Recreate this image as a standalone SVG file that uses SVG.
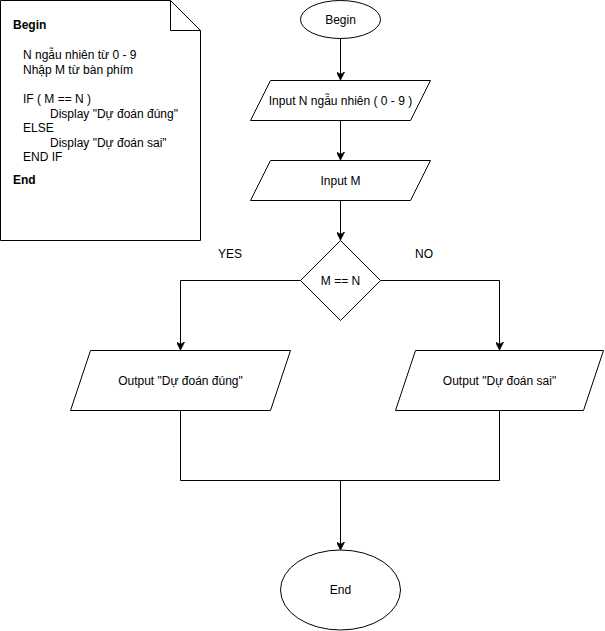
<svg xmlns="http://www.w3.org/2000/svg" width="605" height="631" viewBox="0 0 605 631">
  <style>
    .shape { fill: #ffffff; stroke: #000000; stroke-width: 1; }
    .edge { fill: none; stroke: #000000; stroke-width: 1; }
    .label { font-family: "Liberation Sans", Arial, Helvetica, sans-serif; font-size: 12px; fill: #000000; }
    .mid { text-anchor: middle; dominant-baseline: central; }
    .bold { font-weight: bold; }
  </style>
  <defs>
    <marker id="arrow" viewBox="0 0 10 10" refX="10" refY="5" markerWidth="8" markerHeight="8" markerUnits="userSpaceOnUse" orient="auto">
      <path d="M0,0 L10,5 L0,10 L3,5 Z" fill="#000000" stroke="#000000" stroke-width="1"/>
    </marker>
  </defs>

  <rect width="605" height="631" fill="#ffffff"/>

  <!-- pseudocode note -->
  <g id="note">
    <path class="shape" d="M0.5,0.5 H170.5 L200.5,30.5 V240.5 H0.5 Z"/>
    <path class="edge" d="M170.5,0.5 V30.5 H200.5"/>
    <text class="label bold" x="13" y="29">Begin</text>
    <text class="label" x="23" y="59">N ngẫu nhiên từ 0 - 9</text>
    <text class="label" x="23" y="74">Nhập M từ bàn phím</text>
    <text class="label" x="23" y="103">IF ( M == N )</text>
    <text class="label" x="50" y="118">Display "Dự đoán đúng"</text>
    <text class="label" x="23" y="132">ELSE</text>
    <text class="label" x="50" y="147">Display "Dự đoán sai"</text>
    <text class="label" x="23" y="161">END IF</text>
    <text class="label bold" x="13" y="184">End</text>
  </g>

  <!-- connectors -->
  <g id="connectors">
    <path class="edge" d="M340.5,38.5 V80" marker-end="url(#arrow)"/>
    <path class="edge" d="M340.5,120.5 V160" marker-end="url(#arrow)"/>
    <path class="edge" d="M340.5,200.5 V240" marker-end="url(#arrow)"/>
    <path class="edge" d="M300.5,280.5 H180.5 V350" marker-end="url(#arrow)"/>
    <path class="edge" d="M380.5,280.5 H499.5 V350" marker-end="url(#arrow)"/>
    <path class="edge" d="M180.5,410.5 V480.5 H499.5 V410.5"/>
    <path class="edge" d="M340.5,480.5 V550" marker-end="url(#arrow)"/>
    <text class="label mid" x="230" y="254">YES</text>
    <text class="label mid" x="424" y="254">NO</text>
  </g>

  <g id="begin">
    <ellipse class="shape" cx="340.5" cy="19.5" rx="40" ry="19"/>
    <text class="label mid" x="340.5" y="19.5">Begin</text>
  </g>

  <g id="input-n">
    <path class="shape" d="M270.5,80.5 H430.5 L410.5,120.5 H250.5 Z"/>
    <text class="label mid" x="340.5" y="100.5">Input N ngẫu nhiên ( 0 - 9 )</text>
  </g>

  <g id="input-m">
    <path class="shape" d="M270.5,160.5 H430.5 L410.5,200.5 H250.5 Z"/>
    <text class="label mid" x="340.5" y="180.5">Input M</text>
  </g>

  <g id="decision">
    <path class="shape" d="M340.5,240.5 L380.5,280.5 L340.5,320.5 L300.5,280.5 Z"/>
    <text class="label mid" x="340.5" y="280.5">M == N</text>
  </g>

  <g id="output-right-guess">
    <path class="shape" d="M90.5,350.5 H290.5 L270.5,410.5 H70.5 Z"/>
    <text class="label mid" x="180.5" y="380.5">Output "Dự đoán đúng"</text>
  </g>

  <g id="output-wrong-guess">
    <path class="shape" d="M415.5,350.5 H603.5 L583.5,410.5 H395.5 Z"/>
    <text class="label mid" x="499.5" y="380.5">Output "Dự đoán sai"</text>
  </g>

  <g id="end">
    <ellipse class="shape" cx="340.5" cy="590" rx="60" ry="40"/>
    <text class="label mid" x="340.5" y="590">End</text>
  </g>
</svg>
